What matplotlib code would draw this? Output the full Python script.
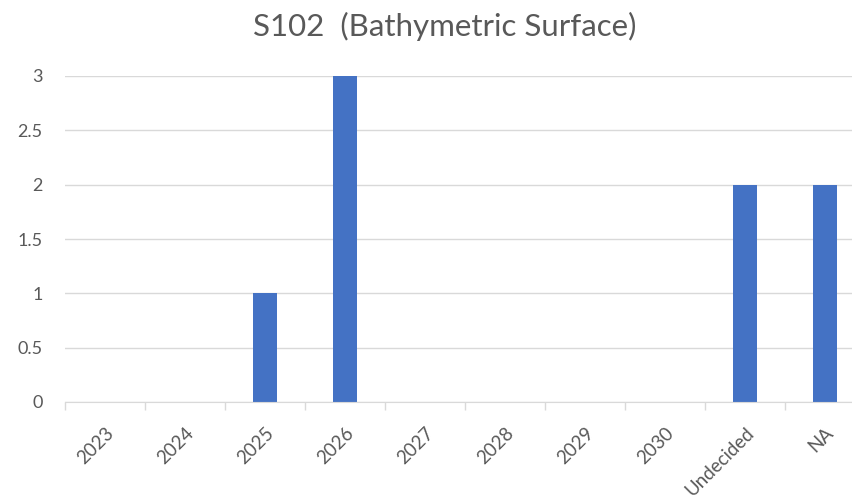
import matplotlib
matplotlib.use("Agg")
import matplotlib.pyplot as plt
import numpy as np

categories = ["2023", "2024", "2025", "2026", "2027", "2028", "2029", "2030", "Undecided", "NA"]
values = [0, 0, 1, 3, 0, 0, 0, 0, 2, 2]
yticks = [0, 0.5, 1, 1.5, 2, 2.5, 3]
ytick_labels = ["0", "0.5", "1", "1.5", "2", "2.5", "3"]
title = "S102  (Bathymetric Surface)"

plt.rcParams['font.family'] = ['Lato', 'DejaVu Sans']
fig = plt.figure(figsize=(8.53, 5.0), dpi=100)
ax = fig.add_axes([65/853, 98/500, 800/853, 326/500])

x = np.arange(len(categories))
ax.bar(x, values, width=0.31, color="#4472C4", zorder=3)
ax.set_xlim(-0.5, len(categories) - 0.5)
ax.set_ylim(0, 3)
ax.set_yticks(yticks)
ax.set_yticklabels(ytick_labels)
ax.yaxis.grid(True, color="#D9D9D9", linewidth=1, zorder=0)
ax.tick_params(axis='y', length=0, pad=16, labelsize=13, labelcolor="#595959")

ax.set_xticks(x)
ax.set_xticklabels(categories, rotation=45, ha='right', rotation_mode='anchor')
ax.tick_params(axis='x', which='major', length=0, pad=16, labelsize=13.5, labelcolor="#595959")
ax.set_xticks(np.arange(-0.5, len(categories) + 0.5, 1), minor=True)
ax.tick_params(axis='x', which='minor', length=6, color="#D9D9D9", width=1)

for s in ["top", "right", "left"]:
    ax.spines[s].set_visible(False)
ax.spines["bottom"].set_color("#D9D9D9")
ax.spines["bottom"].set_zorder(4)

fig.text(445/853, 1 - 26/500, title, ha='center', va='center', fontsize=22.5, color="#595959")

fig.savefig("out.png", dpi=100)
